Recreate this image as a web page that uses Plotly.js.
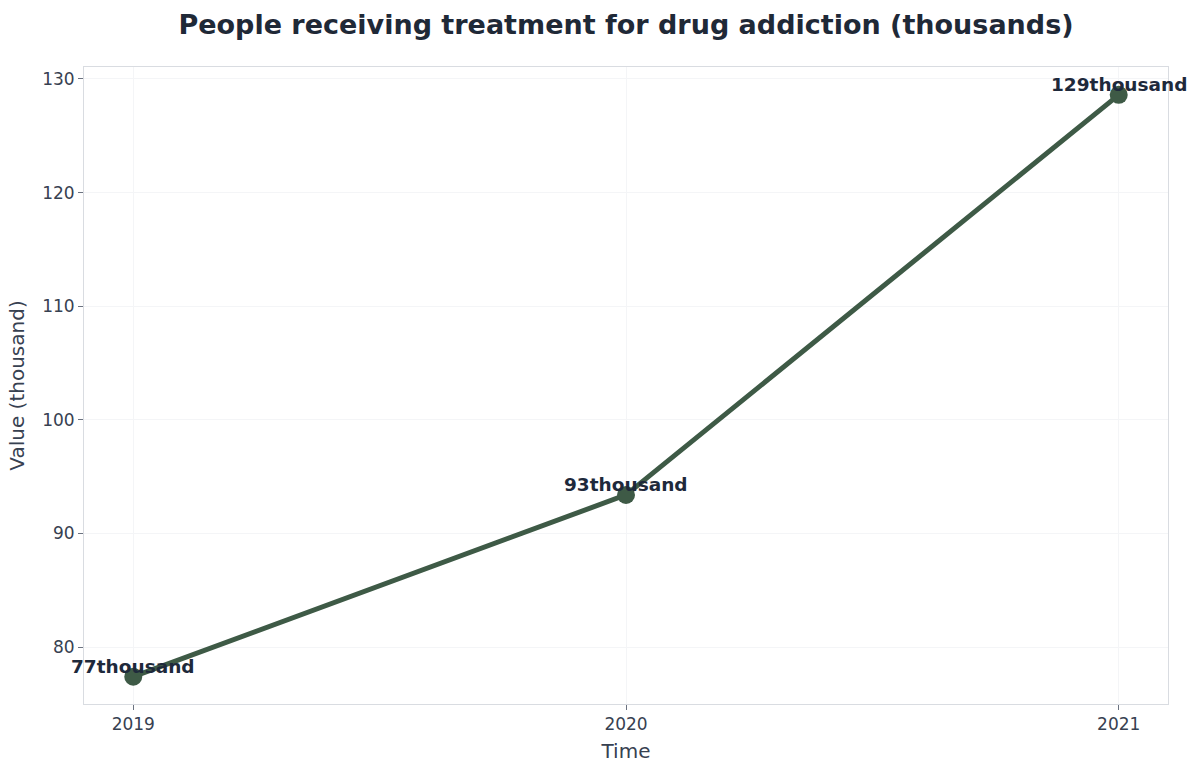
<!DOCTYPE html>
<html>
<head>
<meta charset="utf-8">
<script src="https://cdn.plot.ly/plotly-3.0.1.min.js"></script>
<style>
  html, body { margin: 0; padding: 0; background: #fff; }
  #chart { width: 1200px; height: 773px; }
</style>
</head>
<body>
<div id="chart"></div>
<script>
var years = [2019, 2020, 2021];
var values = [77.4, 93.4, 128.6];
var labels = ['77thousand', '93thousand', '129thousand'];

var line = {
  x: years,
  y: values,
  mode: 'lines+markers',
  type: 'scatter',
  line: {color: '#3e5a46', width: 5},
  marker: {color: '#3e5a46', size: 18},
  hoverinfo: 'x+y'
};

// labels sit just above each point, overlapping the marker a bit
var notes = years.map(function (yr, i) {
  return {
    x: yr, y: values[i], text: labels[i],
    showarrow: false, yanchor: 'bottom', yshift: -2,
    font: {family: 'DejaVu Sans', size: 18.5, color: '#1e293b', weight: 'bold'}
  };
});

var layout = {
  width: 1200,
  height: 773,
  margin: {l: 84, r: 32, t: 67, b: 69},
  paper_bgcolor: '#ffffff',
  plot_bgcolor: '#ffffff',
  showlegend: false,
  font: {family: 'DejaVu Sans', color: '#374151'},
  title: {
    text: '<b>People receiving treatment for drug addiction (thousands)</b>',
    font: {family: 'DejaVu Sans', size: 27, color: '#1f2937'},
    xref: 'paper', x: 0.5, xanchor: 'center', y: 0.968, yanchor: 'middle'
  },
  xaxis: {
    title: {text: 'Time', font: {size: 20, color: '#374151'}, standoff: 10},
    range: [2018.9, 2021.1],
    tickvals: years,
    ticktext: years.map(String),
    tickfont: {size: 17, color: '#374151'},
    ticks: 'outside', ticklen: 5, tickcolor: '#6b7280',
    showgrid: true, gridcolor: '#f4f5f7',
    showline: true, linecolor: '#d9dce1', linewidth: 1, mirror: true,
    zeroline: false
  },
  yaxis: {
    title: {text: 'Value (thousand)', font: {size: 20, color: '#374151'}, standoff: 12},
    range: [75, 131.05],
    dtick: 10,
    tickfont: {size: 17, color: '#374151'},
    ticks: 'outside', ticklen: 5, tickcolor: '#6b7280',
    showgrid: true, gridcolor: '#f4f5f7',
    showline: true, linecolor: '#d9dce1', linewidth: 1, mirror: true,
    zeroline: false
  },
  annotations: notes
};

Plotly.newPlot('chart', [line], layout, {displayModeBar: false});
</script>
</body>
</html>
